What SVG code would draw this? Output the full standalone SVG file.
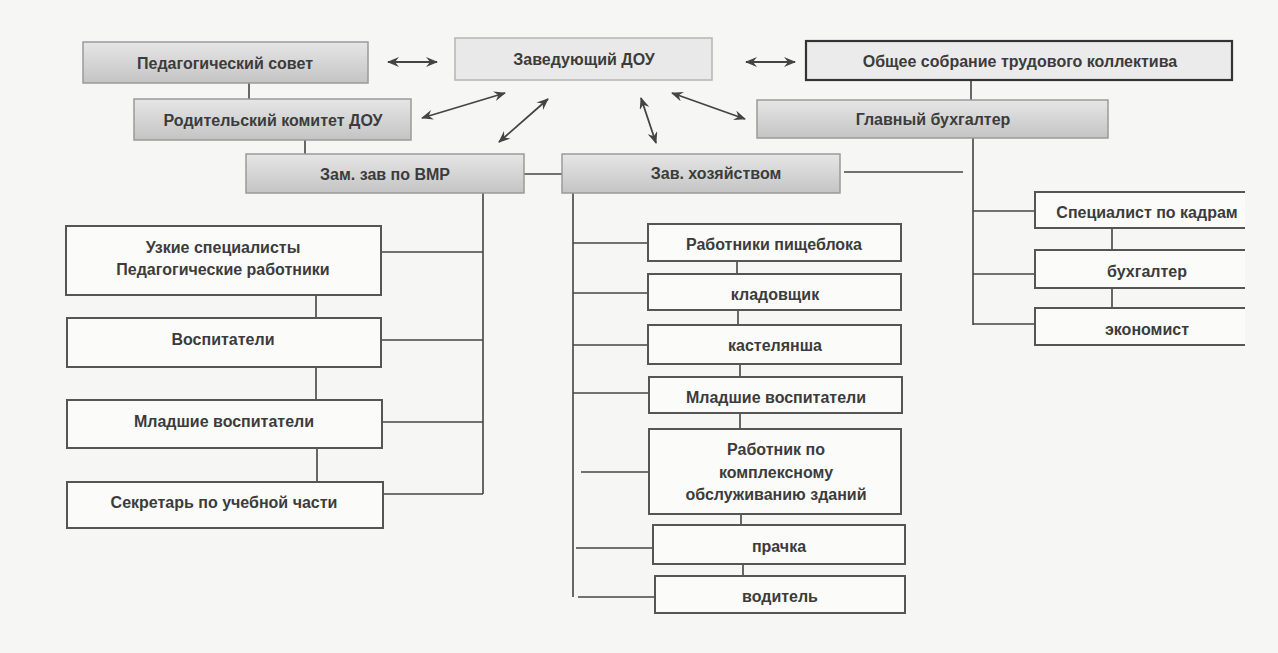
<svg xmlns="http://www.w3.org/2000/svg" width="1278" height="653" viewBox="0 0 1278 653">
<style>
text{font-family:"Liberation Sans",Arial,sans-serif;font-size:16px;font-weight:bold;fill:#3c3c3c;text-anchor:middle;dominant-baseline:central}
.g{fill:url(#grad);stroke:#9a9a9a;stroke-width:1.5}
.l{fill:#e9e9e9;stroke:#b5b5b5;stroke-width:1.5}
.w{fill:#fbfbfa;stroke:#555;stroke-width:2}
.c{stroke:#444;stroke-width:1.6;fill:none}
.a{stroke:#444;stroke-width:1.8;fill:none;marker-start:url(#ah);marker-end:url(#ah)}
</style>
<defs>
<linearGradient id="grad" x1="0" y1="0" x2="0" y2="1">
<stop offset="0" stop-color="#e6e6e6"/>
<stop offset="1" stop-color="#c4c4c4"/>
</linearGradient>
<marker id="ah" viewBox="0 0 12 10" refX="11" refY="5" markerWidth="12" markerHeight="10" orient="auto-start-reverse" markerUnits="userSpaceOnUse">
<path d="M0,0 L12,5 L0,10 L4,5 z" fill="#444"/>
</marker>
</defs>
<rect x="0" y="0" width="1278" height="653" fill="#f6f6f4"/>

<g id="connectors">
<line class="c" x1="249" y1="83" x2="249" y2="99"/>
<line class="c" x1="305" y1="140" x2="305" y2="154"/>
<line class="c" x1="524" y1="174" x2="562" y2="174"/>
<line class="c" x1="971" y1="80" x2="971" y2="100"/>
<line class="a" x1="388" y1="62" x2="437" y2="62"/>
<line class="a" x1="746" y1="62" x2="795" y2="62"/>
<line class="a" x1="422" y1="118" x2="505" y2="93"/>
<line class="a" x1="499" y1="142" x2="548" y2="99"/>
<line class="a" x1="641" y1="98" x2="656" y2="143"/>
<line class="a" x1="672" y1="93" x2="745" y2="119"/>
<!-- left column -->
<line class="c" x1="483" y1="193" x2="483" y2="494"/>
<line class="c" x1="381" y1="252" x2="483" y2="252"/>
<line class="c" x1="381" y1="340" x2="483" y2="340"/>
<line class="c" x1="381" y1="422" x2="483" y2="422"/>
<line class="c" x1="381" y1="494" x2="483" y2="494"/>
<line class="c" x1="316" y1="295" x2="316" y2="318"/>
<line class="c" x1="316" y1="367" x2="316" y2="400"/>
<line class="c" x1="317" y1="448" x2="317" y2="482"/>
<!-- middle column -->
<line class="c" x1="573" y1="193" x2="573" y2="597"/>
<line class="c" x1="573" y1="243" x2="648" y2="243"/>
<line class="c" x1="573" y1="293" x2="648" y2="293"/>
<line class="c" x1="573" y1="345" x2="648" y2="345"/>
<line class="c" x1="573" y1="393" x2="648" y2="393"/>
<line class="c" x1="581" y1="472" x2="649" y2="472"/>
<line class="c" x1="576" y1="548" x2="653" y2="548"/>
<line class="c" x1="578" y1="597" x2="655" y2="597"/>
<line class="c" x1="737" y1="261" x2="737" y2="274"/>
<line class="c" x1="738" y1="310" x2="738" y2="325"/>
<line class="c" x1="740" y1="364" x2="740" y2="377"/>
<line class="c" x1="740" y1="413" x2="740" y2="429"/>
<line class="c" x1="741" y1="514" x2="741" y2="525"/>
<line class="c" x1="743" y1="564" x2="743" y2="576"/>
<!-- right column -->
<line class="c" x1="844" y1="172" x2="963" y2="172"/>
<line class="c" x1="973" y1="138" x2="973" y2="325"/>
<line class="c" x1="973" y1="211" x2="1035" y2="211"/>
<line class="c" x1="973" y1="274" x2="1035" y2="274"/>
<line class="c" x1="973" y1="324" x2="1035" y2="324"/>
<line class="c" x1="1112" y1="228" x2="1112" y2="250"/>
<line class="c" x1="1112" y1="288" x2="1112" y2="308"/>
</g>

<g id="n-pedsovet"><rect class="g" x="83" y="42" width="285" height="41"/><text x="225" y="63">Педагогический совет</text></g>
<g id="n-zav"><rect class="l" x="455" y="38" width="257" height="42"/><text x="584" y="59">Заведующий ДОУ</text></g>
<g id="n-sobranie"><rect x="806" y="41" width="426" height="39" fill="#ebebeb" stroke="#333" stroke-width="2.2"/><text x="1020" y="61">Общее собрание трудового коллектива</text></g>
<g id="n-rodkom"><rect class="g" x="134" y="99" width="277" height="41"/><text x="273" y="120">Родительский комитет ДОУ</text></g>
<g id="n-glbuh"><rect class="g" x="757" y="100" width="351" height="38"/><text x="933" y="119">Главный бухгалтер</text></g>
<g id="n-zamzav"><rect class="g" x="246" y="154" width="278" height="39"/><text x="385" y="174">Зам. зав по ВМР</text></g>
<g id="n-zavhoz"><rect class="g" x="562" y="154" width="278" height="39"/><text x="716" y="173">Зав. хозяйством</text></g>

<g id="n-uzkie"><rect class="w" x="66" y="226" width="315" height="69"/><text x="223" y="247">Узкие специалисты</text><text x="223" y="269">Педагогические работники</text></g>
<g id="n-vosp"><rect class="w" x="67" y="318" width="314" height="49"/><text x="223" y="339">Воспитатели</text></g>
<g id="n-mlvosp1"><rect class="w" x="67" y="400" width="315" height="48"/><text x="224" y="421">Младшие воспитатели</text></g>
<g id="n-sekr"><rect class="w" x="67" y="482" width="316" height="46"/><text x="224" y="502">Секретарь по учебной части</text></g>

<g id="n-pisheblok"><rect class="w" x="648" y="224" width="253" height="37"/><text x="774" y="244">Работники пищеблока</text></g>
<g id="n-kladov"><rect class="w" x="648" y="274" width="253" height="36"/><text x="775" y="294">кладовщик</text></g>
<g id="n-kastel"><rect class="w" x="648" y="325" width="253" height="39"/><text x="775" y="345">кастелянша</text></g>
<g id="n-mlvosp2"><rect class="w" x="649" y="377" width="253" height="36"/><text x="776" y="397">Младшие воспитатели</text></g>
<g id="n-rabotnik"><rect class="w" x="649" y="429" width="252" height="85"/><text x="776" y="449">Работник по</text><text x="776" y="472">комплексному</text><text x="776" y="494">обслуживанию зданий</text></g>
<g id="n-prachka"><rect class="w" x="653" y="525" width="252" height="39"/><text x="779" y="546">прачка</text></g>
<g id="n-voditel"><rect class="w" x="655" y="576" width="250" height="37"/><text x="780" y="596">водитель</text></g>

<g id="n-kadry"><path class="w" d="M1245,192 H1035 V228 H1245"/><text x="1147" y="212">Специалист по кадрам</text></g>
<g id="n-buh"><path class="w" d="M1245,250 H1035 V288 H1245"/><text x="1147" y="271">бухгалтер</text></g>
<g id="n-ekon"><path class="w" d="M1245,308 H1035 V345 H1245"/><text x="1147" y="329">экономист</text></g>
</svg>
